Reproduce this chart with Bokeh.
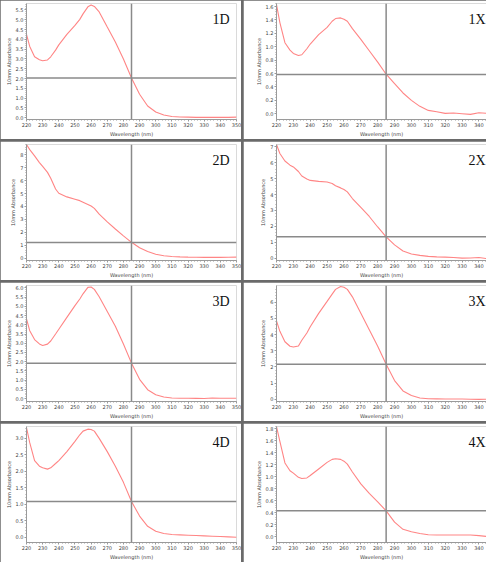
import numpy as np
from bokeh.plotting import figure
from bokeh.layouts import gridplot
from bokeh.models import Span, FixedTicker, Range1d, Label, NumeralTickFormatter
from bokeh.embed import file_html
from bokeh.resources import INLINE

# ---------------- data ----------------
wavelength = [220, 222, 225, 228, 230, 233, 235, 238, 240, 245, 250, 253, 255, 258, 260,
              262, 265, 270, 275, 280, 285, 290, 295, 300, 305, 310, 315, 320, 325, 330,
              335, 340, 345, 350]

abs_1d = [4.25, 3.64, 3.11, 2.96, 2.91, 2.95, 3.11, 3.45, 3.72, 4.25, 4.71, 5.02, 5.30, 5.66, 5.75,
          5.68, 5.40, 4.63, 3.87, 3.00, 2.03, 1.20, 0.60, 0.29, 0.14, 0.06, 0.04, 0.03, 0.02, 0.02,
          0.02, 0.02, 0.02, 0.03]
abs_1x = [1.63, 1.36, 1.06, 0.95, 0.90, 0.87, 0.88, 0.97, 1.04, 1.18, 1.29, 1.38, 1.42, 1.43, 1.41,
          1.38, 1.27, 1.11, 0.94, 0.77, 0.59, 0.45, 0.31, 0.20, 0.11, 0.05, 0.03, 0.005, 0.01, 0.0,
          -0.01, 0.015, 0.005, 0.0]
abs_2d = [8.80, 8.40, 7.92, 7.40, 7.10, 6.64, 6.18, 5.35, 5.02, 4.74, 4.56, 4.45, 4.33, 4.15, 4.03,
          3.85, 3.40, 2.80, 2.25, 1.72, 1.22, 0.80, 0.50, 0.30, 0.18, 0.12, 0.09, 0.07, 0.06, 0.05,
          0.05, 0.05, 0.06, 0.07]
abs_2x = [7.15, 6.58, 6.11, 5.85, 5.74, 5.45, 5.17, 4.98, 4.89, 4.83, 4.79, 4.70, 4.55, 4.42, 4.32,
          4.17, 3.75, 3.19, 2.62, 1.96, 1.34, 0.83, 0.45, 0.26, 0.17, 0.11, 0.08, 0.06, 0.04, 0.0,
          0.01, 0.04, -0.04, -0.02]
abs_3d = [4.32, 3.68, 3.20, 2.96, 2.88, 2.95, 3.12, 3.50, 3.76, 4.40, 5.04, 5.40, 5.68, 6.03, 6.05,
          5.92, 5.52, 4.72, 3.92, 2.96, 1.92, 1.04, 0.48, 0.21, 0.08, 0.03, 0.02, 0.02, 0.01, 0.0,
          0.03, 0.02, 0.02, 0.02]
abs_3x = [4.85, 4.20, 3.56, 3.28, 3.23, 3.30, 3.65, 4.10, 4.48, 5.31, 6.05, 6.50, 6.79, 6.97, 6.92,
          6.79, 6.33, 5.31, 4.30, 3.28, 2.17, 1.16, 0.52, 0.24, 0.09, 0.04, 0.03, 0.02, 0.02, 0.02,
          0.01, 0.0, 0.01, 0.02]
abs_4d = [3.32, 2.86, 2.32, 2.15, 2.10, 2.06, 2.10, 2.23, 2.32, 2.59, 2.90, 3.10, 3.21, 3.27, 3.26,
          3.21, 2.99, 2.59, 2.15, 1.66, 1.08, 0.64, 0.33, 0.18, 0.11, 0.08, 0.07, 0.06, 0.05, 0.04,
          0.03, 0.02, 0.01, 0.0]
abs_4x = [1.84, 1.59, 1.23, 1.10, 1.06, 0.99, 0.97, 0.98, 1.02, 1.13, 1.24, 1.29, 1.30, 1.29, 1.26,
          1.21, 1.08, 0.88, 0.72, 0.58, 0.43, 0.24, 0.12, 0.08, 0.05, 0.03, 0.025, 0.025, 0.025, 0.025,
          0.025, 0.015, 0.0, -0.01]

panel_names = ["1D", "1X", "2D", "2X", "3D", "3X", "4D", "4X"]
series = [abs_1d, abs_1x, abs_2d, abs_2x, abs_3d, abs_3x, abs_4d, abs_4x]
cursor_wavelength = 285
cursor_abs = [2.03, 0.586, 1.20, 1.34, 1.92, 2.17, 1.08, 0.43]
y_low = [-0.09, -0.086, -0.19, -0.15, -0.16, -0.13, -0.16, -0.10]
y_high = [5.83, 1.645, 8.8, 7.15, 6.13, 7.03, 3.35, 1.84]
y_ticks = [
    [0.0, 0.5, 1.0, 1.5, 2.0, 2.5, 3.0, 3.5, 4.0, 4.5, 5.0, 5.5],
    [0.0, 0.2, 0.4, 0.6, 0.8, 1.0, 1.2, 1.4, 1.6],
    [0, 1, 2, 3, 4, 5, 6, 7, 8],
    [0, 1, 2, 3, 4, 5, 6, 7],
    [0.0, 0.5, 1.0, 1.5, 2.0, 2.5, 3.0, 3.5, 4.0, 4.5, 5.0, 5.5, 6.0],
    [0, 1, 2, 3, 4, 5, 6],
    [0.0, 0.5, 1.0, 1.5, 2.0, 2.5, 3.0],
    [0.0, 0.2, 0.4, 0.6, 0.8, 1.0, 1.2, 1.4, 1.6, 1.8],
]
y_formats = ["0.0", "0.0", "0", "0", "0.0", "0", "0.0", "0.0"]
x_ticks = [220, 230, 240, 250, 260, 270, 280, 290, 300, 310, 320, 330, 340, 350]
x_label = "Wavelength (nm)"
y_label = "10mm Absorbance"

# ---------------- layout ----------------
LEFT_W, RIGHT_W, H = 241, 243, 139
TICK_FONT = "DejaVu Sans"


def make_panel(i):
    left_col = (i % 2 == 0)
    w = LEFT_W if left_col else RIGHT_W
    x_end = 350 if left_col else 344.5
    p = figure(width=w, height=H, output_backend="svg", toolbar_location=None,
               x_range=Range1d(220, x_end), y_range=Range1d(y_low[i], y_high[i]),
               min_border_left=26 if left_col else 33, min_border_right=5 if left_col else 0,
               min_border_top=3, min_border_bottom=12)
    p.background_fill_color = "white"
    p.border_fill_color = "white"
    p.outline_line_color = None
    p.xgrid.visible = False
    p.ygrid.visible = False

    p.line(wavelength, series[i], line_color="#ff8585", line_width=1.1)

    p.add_layout(Span(location=cursor_wavelength, dimension="height",
                      line_color="#8a8a8a", line_width=1.5))
    p.add_layout(Span(location=cursor_abs[i], dimension="width",
                      line_color="#8a8a8a", line_width=1.5))

    minor_x = [v for v in range(220, 351, 2)]
    p.xaxis.ticker = FixedTicker(ticks=x_ticks, minor_ticks=minor_x)
    yt = y_ticks[i]
    step = yt[1] - yt[0]
    minor_y = list(np.arange(yt[0], yt[-1] + step, step / 5))
    p.yaxis.ticker = FixedTicker(ticks=yt, minor_ticks=minor_y)
    p.yaxis.formatter = NumeralTickFormatter(format=y_formats[i])

    p.xaxis.axis_label = x_label
    p.yaxis.axis_label = y_label
    for ax in (p.xaxis, p.yaxis):
        ax.axis_line_color = "#9a9a9a"
        ax.major_tick_line_color = "#9a9a9a"
        ax.minor_tick_line_color = "#9a9a9a"
        ax.major_tick_out = 2
        ax.major_tick_in = 0
        ax.minor_tick_out = 1
        ax.minor_tick_in = 0
        ax.major_label_text_font = TICK_FONT
        ax.major_label_text_font_size = "5px"
        ax.major_label_text_color = "#444444"
        ax.major_label_standoff = 1
        ax.axis_label_text_font = TICK_FONT
        ax.axis_label_text_font_size = "5px"
        ax.axis_label_text_font_style = "normal"
        ax.axis_label_text_color = "#444444"
        ax.axis_label_standoff = 1

    yspan = y_high[i] - y_low[i]
    p.add_layout(Label(x=x_end, y=y_high[i] - 0.075 * yspan, text=panel_names[i],
                       x_offset=-7 if left_col else -1,
                       text_align="right", text_baseline="top",
                       text_font="Liberation Serif", text_font_size="14px",
                       text_color="#111111"))
    return p


figs = [make_panel(i) for i in range(8)]
grid = gridplot([[figs[0], figs[1]], [figs[2], figs[3]], [figs[4], figs[5]], [figs[6], figs[7]]],
                toolbar_location=None)
grid.spacing = 2
grid.styles = {"background-color": "#6a6a6a"}

open("out.html", "w").write(file_html(grid, INLINE))
